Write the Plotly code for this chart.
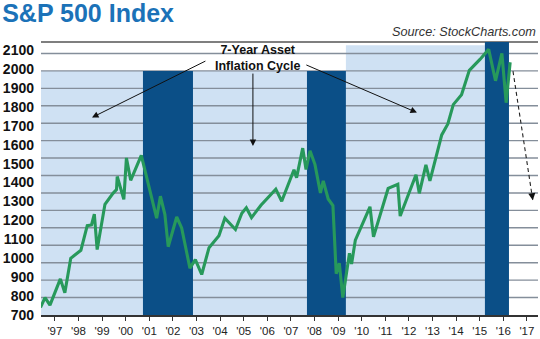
import plotly.graph_objects as go

# ---- data ----
dates = [1996.39, 1996.58, 1996.79, 1997.23, 1997.42, 1997.67, 1998.10, 1998.37, 1998.55, 1998.67,
         1998.79, 1999.12, 1999.46, 1999.61, 1999.64, 1999.92, 2000.03, 2000.21, 2000.66, 2001.31,
         2001.47, 2001.66, 2001.80, 2002.16, 2002.37, 2002.72, 2002.95, 2003.22, 2003.53, 2003.95,
         2004.20, 2004.65, 2004.92, 2005.11, 2005.33, 2005.73, 2006.36, 2006.61, 2007.13, 2007.24,
         2007.50, 2007.64, 2007.81, 2008.02, 2008.25, 2008.37, 2008.58, 2008.78, 2008.92, 2009.05,
         2009.20, 2009.48, 2009.57, 2009.73, 2010.35, 2010.50, 2011.12, 2011.53, 2011.63, 2012.30,
         2012.44, 2012.72, 2012.89, 2013.14, 2013.39, 2013.65, 2013.88, 2014.23, 2014.56, 2015.01,
         2015.38, 2015.67, 2015.94, 2016.12, 2016.29]
sp500 = [740, 792, 752, 891, 818, 1000, 1042, 1172, 1176, 1233,
         1046, 1285, 1343, 1363, 1432, 1311, 1530, 1412, 1544, 1212,
         1328, 1231, 1061, 1218, 1160, 948, 993, 914, 1056, 1119,
         1212, 1152, 1238, 1267, 1215, 1280, 1365, 1301, 1468, 1426,
         1582, 1469, 1568, 1495, 1345, 1409, 1313, 1279, 918, 974,
         792, 1026, 970, 1096, 1272, 1113, 1369, 1391, 1223, 1441,
         1343, 1494, 1409, 1530, 1652, 1710, 1812, 1864, 1993, 2051,
         2104, 1938, 2083, 1822, 2036]

# 7-year cycle periods (dark) and the light periods between them
cycle_starts = [2000.73, 2007.68, 2015.22]
cycle_ends = [2002.85, 2009.33, 2016.24]
light_starts = [1996.41, 2002.85, 2009.33]
light_ends = [2000.73, 2007.68, 2015.22]

# projected move after 2016
forecast_x = [2016.41, 2017.25]
forecast_y = [1989, 1306]

y_ticks = [700, 800, 900, 1000, 1100, 1200, 1300, 1400, 1500, 1600, 1700, 1800, 1900, 2000, 2100]
x_ticks = list(range(1997, 2018))
x_labels = ["'" + str(y)[2:] for y in x_ticks]

# ---- styles ----
LIGHT = "#cfe1f3"
DARK = "#0b4f87"
GREEN = "#27995b"
GRID = "#848e9a"

fig = go.Figure()

fig.add_trace(go.Scatter(x=dates, y=sp500, mode="lines",
                         line=dict(color=GREEN, width=3.1), hoverinfo="skip"))

# light regions
light_tops = [0.894, 0.894, 0.988]
for s, e, t in zip(light_starts, light_ends, light_tops):
    fig.add_shape(type="rect", xref="x", yref="paper", x0=s, x1=e, y0=0, y1=t,
                  fillcolor=LIGHT, line=dict(width=0), layer="below")

# gridlines (evenly spaced, 15 of them above the axis line) + top border
for k in range(1, 16):
    fig.add_shape(type="line", xref="paper", yref="paper", x0=0, x1=1,
                  y0=k * 0.06387, y1=k * 0.06387, line=dict(color=GRID, width=1.4), layer="below")
fig.add_shape(type="line", xref="paper", yref="paper", x0=0, x1=1, y0=1, y1=1,
              line=dict(color="#555555", width=1.4), layer="below")

# dark cycle bands
dark_tops = [0.894, 0.894, 1.0]
for s, e, t in zip(cycle_starts, cycle_ends, dark_tops):
    fig.add_shape(type="rect", xref="x", yref="paper", x0=s, x1=e, y0=0, y1=t,
                  fillcolor=DARK, line=dict(width=0), layer="below")

# dashed forecast arrow
fig.add_shape(type="line", xref="x", yref="y", x0=forecast_x[0], y0=forecast_y[0],
              x1=forecast_x[1], y1=forecast_y[1], line=dict(color="#222222", width=1.1, dash="4px,3px"))
fig.add_annotation(x=forecast_x[1], y=forecast_y[1], ax=-1, ay=-7, text="", showarrow=True,
                   arrowhead=2, arrowsize=1.3, arrowwidth=1.1, arrowcolor="#111111")

# annotation text and arrows
fig.add_annotation(x=2005.58, y=2060, xref="x", yref="y", text="<b>7-Year Asset<br>Inflation Cycle</b>",
                   showarrow=False, font=dict(family="Liberation Sans, Arial", size=12.5, color="#111111"))
arrows = [((2003.44, 2046), (1998.57, 1744)),
          ((2005.39, 1984), (2005.39, 1593)),
          ((2007.59, 2025), (2012.34, 1770))]
for (tx, ty), (hx, hy) in arrows:
    fig.add_annotation(x=hx, y=hy, ax=tx, ay=ty, axref="x", ayref="y", xref="x", yref="y",
                       text="", showarrow=True, arrowhead=2, arrowsize=1.3, arrowwidth=1,
                       arrowcolor="#111111")

fig.add_annotation(x=1.0, y=1.035, xref="paper", yref="paper", xanchor="right", yanchor="middle",
                   text="<i>Source: StockCharts.com</i>", showarrow=False,
                   font=dict(family="Liberation Sans, Arial", size=12.7, color="#333333"))

fig.update_layout(
    width=540, height=339,
    margin=dict(l=41, r=2, t=42, b=21),
    paper_bgcolor="white", plot_bgcolor="white",
    showlegend=False,
    title=dict(text="<b>S&P 500 Index</b>", x=0.004, xref="container", xanchor="left",
               y=1 - 13 / 339, yref="container", yanchor="middle",
               font=dict(family="Liberation Sans, Arial", size=25, color="#1b72b8")),
    xaxis=dict(range=[1996.41, 2017.47], tickmode="array", tickvals=x_ticks, ticktext=x_labels,
               showgrid=False, zeroline=False, showline=True, linecolor="#333333", linewidth=1.5,
               ticks="outside", ticklen=4, tickcolor="#333333", tickwidth=1,
               tickfont=dict(family="Liberation Sans, Arial", size=11.5, color="#222222")),
    yaxis=dict(range=[700, 2143], tickmode="array", tickvals=y_ticks,
               showgrid=False, zeroline=False, showline=False, ticks="", ticklabelstandoff=6,
               tickfont=dict(family="Liberation Sans, Arial", size=14, color="#111111", weight="bold")),
)

fig.write_html("out.html")
